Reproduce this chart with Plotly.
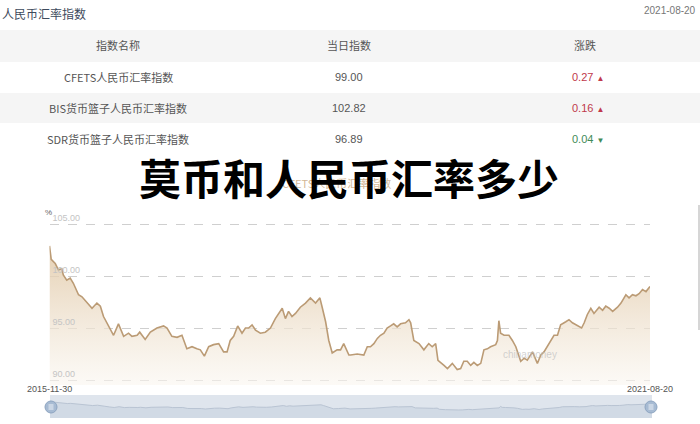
import plotly.graph_objects as go

# ---------------- data ----------------
dates = [
    "2015-11-30", "2015-12-06", "2015-12-20", "2015-12-31", "2016-01-12", "2016-01-17", "2016-01-29",
    "2016-02-10", "2016-02-21", "2016-03-10", "2016-03-22", "2016-04-08", "2016-04-26", "2016-05-13",
    "2016-05-25", "2016-06-05", "2016-06-23", "2016-07-10", "2016-07-27", "2016-08-14", "2016-08-31",
    "2016-09-12", "2016-09-30", "2016-10-09", "2016-10-28", "2016-11-15", "2016-12-08", "2016-12-31",
    "2017-01-12", "2017-01-29", "2017-02-16", "2017-03-05", "2017-03-22", "2017-04-09", "2017-04-26",
    "2017-05-08", "2017-05-22", "2017-06-06", "2017-06-23", "2017-07-11", "2017-07-28", "2017-08-09",
    "2017-08-20", "2017-09-01", "2017-09-15", "2017-09-30", "2017-10-12", "2017-10-23", "2017-11-04",
    "2017-11-16", "2017-12-03", "2017-12-20", "2018-01-07", "2018-01-24", "2018-02-17", "2018-02-28",
    "2018-03-11", "2018-03-23", "2018-04-04", "2018-04-21", "2018-05-09", "2018-05-26", "2018-06-13",
    "2018-06-28", "2018-07-06", "2018-07-18", "2018-07-29", "2018-08-10", "2018-08-27", "2018-09-08",
    "2018-09-19", "2018-10-07", "2018-10-13", "2018-11-05", "2018-11-28", "2018-12-10", "2018-12-21",
    "2019-01-02", "2019-01-14", "2019-01-25", "2019-02-06", "2019-02-17", "2019-03-01", "2019-03-12",
    "2019-03-24", "2019-04-05", "2019-04-22", "2019-05-04", "2019-05-10", "2019-05-21", "2019-06-08",
    "2019-06-25", "2019-07-12", "2019-07-24", "2019-08-05", "2019-08-13", "2019-09-03", "2019-09-15",
    "2019-10-02", "2019-10-19", "2019-10-31", "2019-11-11", "2019-11-23", "2019-12-05", "2019-12-16",
    "2019-12-28", "2020-01-09", "2020-01-20", "2020-02-01", "2020-02-12", "2020-03-01", "2020-03-07",
    "2020-03-12", "2020-03-18", "2020-03-30", "2020-04-16", "2020-04-28", "2020-05-10", "2020-05-27",
    "2020-06-08", "2020-06-19", "2020-07-07", "2020-07-24", "2020-08-05", "2020-08-16", "2020-09-03",
    "2020-09-20", "2020-10-02", "2020-10-13", "2020-10-31", "2020-11-11", "2020-11-23", "2020-12-11",
    "2020-12-25", "2021-01-03", "2021-01-14", "2021-01-26", "2021-02-06", "2021-02-24", "2021-03-08",
    "2021-03-19", "2021-03-31", "2021-04-12", "2021-04-29", "2021-05-11", "2021-05-22", "2021-05-28",
    "2021-06-08", "2021-06-20", "2021-07-02", "2021-07-13", "2021-07-25", "2021-08-06", "2021-08-20",
]
cfets = [
    102.9, 101.6, 101.2, 100.6, 100.7, 100.1, 99.6,
    99.8, 99.3, 98.2, 98.0, 97.5, 96.9, 97.4,
    97.1, 96.1, 95.1, 94.3, 95.4, 94.2, 94.5,
    94.2, 94.3, 94.6, 93.9, 94.6, 95.0, 95.2,
    95.0, 94.2, 94.1, 94.3, 93.0, 93.2, 93.0,
    92.9, 92.3, 93.2, 93.4, 93.5, 92.7, 92.7,
    93.8, 94.2, 95.2, 94.5, 95.0, 95.0, 95.3,
    94.8, 94.5, 94.6, 95.0, 95.9, 96.9, 95.9,
    96.6, 96.1, 96.4, 97.0, 97.4, 97.9, 97.4,
    97.9, 97.0, 95.6, 93.8, 92.6, 92.9, 92.9,
    93.5, 92.4, 92.4, 92.5, 92.4, 93.2, 93.2,
    93.5, 94.0, 94.3, 94.5, 95.0, 95.2, 95.4,
    95.1, 95.4, 95.5, 95.8, 95.5, 93.8, 93.5,
    92.9, 93.5, 93.2, 93.5, 91.9, 91.4, 91.1,
    91.6, 91.0, 91.1, 91.8, 91.8, 91.4, 91.7,
    91.4, 91.6, 92.9, 93.0, 93.2, 93.4, 93.8,
    95.7, 94.5, 94.3, 94.3, 93.8, 93.2, 91.8,
    92.1, 91.9, 92.7, 91.6, 92.4, 92.7, 93.5,
    94.3, 94.3, 95.3, 95.6, 95.8, 95.5, 95.2,
    95.0, 95.5, 96.3, 96.9, 96.4, 97.0, 96.7,
    97.1, 96.9, 96.6, 97.0, 97.4, 98.0, 98.2,
    97.9, 98.2, 98.1, 98.3, 98.7, 98.5, 99.0,
]

y_ticks = [90, 95, 100, 105]
x_ticks = ["2015-11-30", "2021-08-20"]

table_header = ["指数名称", "当日指数", "涨跌"]
index_names = ["CFETS人民币汇率指数", "BIS货币篮子人民币汇率指数", "SDR货币篮子人民币汇率指数"]
index_values = ["99.00", "102.82", "96.89"]
index_changes = ["0.27", "0.16", "0.04"]
change_up = [True, True, False]

title_text = "莫币和人民币汇率多少"
section_title = "人民币汇率指数"
update_date = "2021-08-20"

# ---------------- helpers ----------------
W, H = 700, 424
def px(x):
    return x / W
def py(y):
    return 1 - y / H

LAT = "Liberation Sans, Noto Sans CJK SC, sans-serif"
CJK = "Noto Sans CJK SC, Liberation Sans, sans-serif"

fig = go.Figure()

# main area line
fig.add_trace(go.Scatter(
    x=dates, y=cfets, mode="lines",
    line=dict(color="#bb9b75", width=1.6),
    fill="tozeroy",
    fillgradient=dict(type="vertical", start=89.5, stop=103,
                      colorscale=[[0, "rgba(250,246,240,0.6)"], [1, "rgba(224,199,164,0.85)"]]),
    hoverinfo="skip", showlegend=False,
    xaxis="x", yaxis="y",
))

# navigator
fig.add_trace(go.Scatter(
    x=dates, y=cfets, mode="lines",
    line=dict(color="#b9c4d3", width=1),
    fill="tozeroy", fillcolor="rgba(200,210,224,0.6)",
    hoverinfo="skip", showlegend=False,
    xaxis="x2", yaxis="y2",
))

y_top_px, y_bot_px = 206, 385
def val_at(ypix):
    return 105 - (ypix - 224) / 10.4

fig.update_layout(
    template="none",
    width=W, height=H, autosize=False,
    margin=dict(l=0, r=0, t=0, b=0, pad=0, autoexpand=False),
    paper_bgcolor="white", plot_bgcolor="rgba(0,0,0,0)",
    xaxis=dict(domain=[px(49.5), px(650)], range=["2015-11-30", "2021-08-20"],
               showticklabels=False, showgrid=False, zeroline=False,
               showline=False, ticks="", anchor="y", automargin=False),
    yaxis=dict(domain=[py(y_bot_px), py(y_top_px)], range=[val_at(y_bot_px), val_at(y_top_px)],
               tickvals=y_ticks, tickformat=".2f", ticklabelposition="inside top",
               tickfont=dict(size=9, color="#c4c4c4", family=LAT),
               showgrid=True, gridcolor="#cfcfcf", griddash="dash", gridwidth=1,
               zeroline=False, showline=False, ticks="", anchor="x", automargin=False),
    xaxis2=dict(domain=[px(50), px(652)], range=["2015-11-30", "2021-08-20"],
                visible=False, anchor="y2", automargin=False),
    yaxis2=dict(domain=[py(418), py(395)], range=[80.3, 111], visible=False, anchor="x2",
                automargin=False),
)

shapes = []
# table row backgrounds
shapes.append(dict(type="rect", xref="paper", yref="paper", x0=0, x1=1, y0=py(62), y1=py(30),
                   fillcolor="#f5f5f5", line=dict(width=0), layer="below"))
shapes.append(dict(type="rect", xref="paper", yref="paper", x0=0, x1=1, y0=py(123), y1=py(93),
                   fillcolor="#f5f5f5", line=dict(width=0), layer="below"))
# navigator background
shapes.append(dict(type="rect", xref="paper", yref="paper", x0=px(50), x1=px(652), y0=py(418), y1=py(395),
                   fillcolor="#dfe5ed", line=dict(width=0), layer="below"))
# navigator handles
for cx in (51, 651):
    shapes.append(dict(type="circle", xref="paper", yref="paper",
                       x0=px(cx - 6), x1=px(cx + 6), y0=py(413), y1=py(401),
                       fillcolor="#a7bbd3", line=dict(color="#8ea5c1", width=1)))
    for dy in (-2, 0, 2):
        shapes.append(dict(type="line", xref="paper", yref="paper",
                           x0=px(cx - 2.5), x1=px(cx + 2.5), y0=py(407 + dy), y1=py(407 + dy),
                           line=dict(color="#eef2f7", width=1)))
# right side scroll line
shapes.append(dict(type="line", xref="paper", yref="paper", x0=px(699), x1=px(699), y0=py(330), y1=py(205),
                   line=dict(color="#d6d6d6", width=2)))
fig.update_layout(shapes=shapes)

ann = []
ann.append(dict(text=section_title, x=px(0), y=py(13), xanchor="left", yanchor="middle",
                font=dict(size=12, color="#3d4a5c", family=CJK)))
ann.append(dict(text=update_date, x=px(698), y=py(11), xanchor="right", yanchor="middle",
                font=dict(size=10, color="#777", family=LAT)))
col_x = [118, 349, 590]
for i, h in enumerate(table_header):
    ann.append(dict(text=h, x=px(col_x[i] - (5 if i == 2 else 0)), y=py(45), xanchor="center", yanchor="middle",
                    font=dict(size=11, color="#555", family=CJK)))
row_y = [77, 108, 139]
for r in range(3):
    ann.append(dict(text=index_names[r], x=px(col_x[0]), y=py(row_y[r]), xanchor="center", yanchor="middle",
                    font=dict(size=11, color="#555", family=CJK)))
    ann.append(dict(text=index_values[r], x=px(col_x[1]), y=py(row_y[r]), xanchor="center", yanchor="middle",
                    font=dict(size=11, color="#555", family=LAT)))
    col = "#c0394b" if change_up[r] else "#3f8a57"
    arrow = "▲" if change_up[r] else "▼"
    ann.append(dict(text=index_changes[r] + " <span style='font-size:8px'>" + arrow + "</span>",
                    x=px(570), y=py(row_y[r]), xanchor="left", yanchor="middle",
                    font=dict(size=11, color=col, family=LAT)))
# faded chart title behind
ann.append(dict(text="CFETS人民币汇率指数", x=px(336), y=py(183), xanchor="center", yanchor="middle",
                font=dict(size=11, color="rgba(200,165,120,0.8)", family=CJK)))
# big overlay title
ann.append(dict(text="<b>" + title_text + "</b>", x=px(349), y=py(176), xanchor="center", yanchor="middle",
                font=dict(size=42, color="#000", family=CJK, weight=900)))
# unit label
ann.append(dict(text="%", x=px(48), y=py(212), xanchor="center", yanchor="middle",
                font=dict(size=8, color="#666", family=LAT)))
# watermark
ann.append(dict(text="chinamoney", x=px(530), y=py(354), xanchor="center", yanchor="middle",
                font=dict(size=10, color="rgba(190,190,190,0.7)", family=LAT)))
for a in ann:
    a.update(xref="paper", yref="paper", showarrow=False)
# x-axis end labels placed at their dates
for d in x_ticks:
    ann.append(dict(text=d, x=d, xref="x", y=py(389), yref="paper", xanchor="center", yanchor="middle",
                    showarrow=False, font=dict(size=9, color="#555", family=LAT)))
fig.update_layout(annotations=ann)

fig.write_html("out.html",
               config={"displayModeBar": False, "staticPlot": True},
               post_script="document.body.style.margin='0';document.body.style.padding='0';"
                           "document.documentElement.style.overflow='hidden';")
